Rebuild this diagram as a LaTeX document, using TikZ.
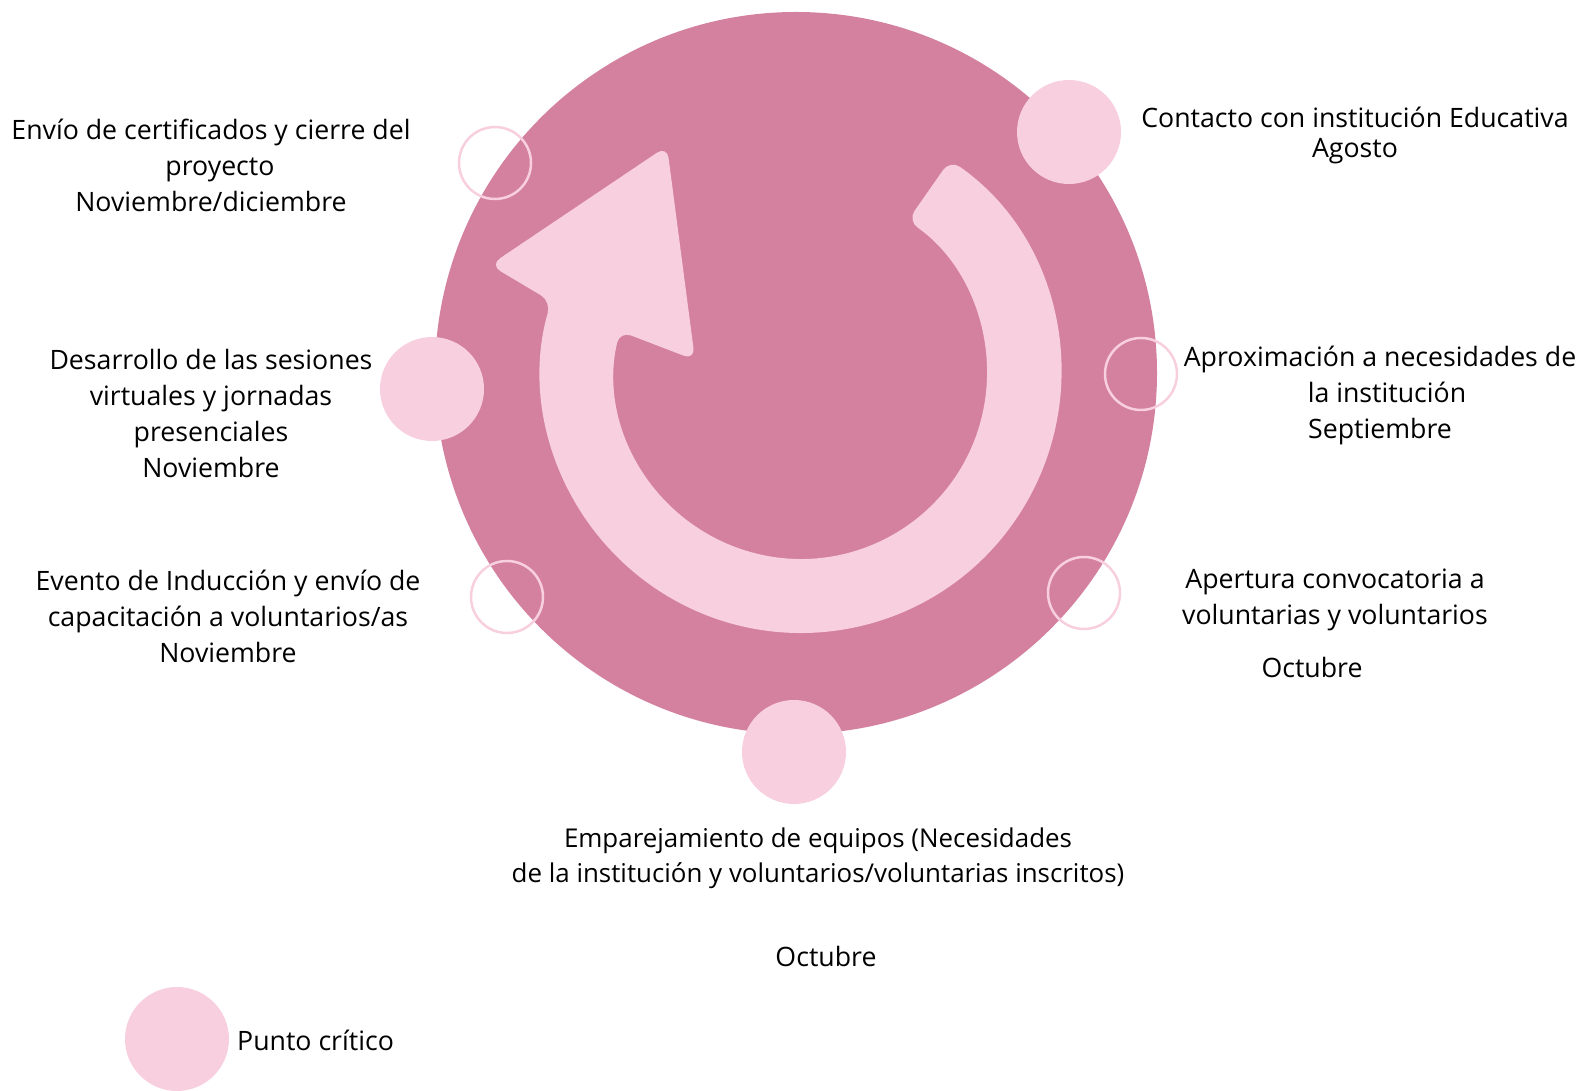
\documentclass[tikz,border=0pt]{standalone}
\usepackage{fontspec}
\setmainfont{Open Sans}
\definecolor{rosa}{HTML}{D4819F}
\definecolor{rosaclaro}{HTML}{F8CFDF}

\begin{document}
\begin{tikzpicture}[x=1pt,y=1pt,
  critico/.style={circle, fill=rosaclaro, draw=none, minimum size=104pt, inner sep=0pt},
  hito/.style={circle, fill=none, draw=rosaclaro, line width=2.5pt, minimum size=72pt, inner sep=0pt},
  etiqueta/.style={align=center, font=\fontsize{26.7}{36}\selectfont, inner sep=0pt}]
\useasboundingbox (0,0) rectangle (1584,1090);
\fill[rosa] (796,717) circle[radius=361];
% flecha circular
\coordinate (o) at (801,717);
\fill[rosaclaro, rounded corners=12] (o) ++(55:223) -- ++(55:37)
  arc[start angle=55, end angle=-196, radius=260]
  -- (490,825) -- (667,944) -- (695,730) -- ([shift={(-193:186)}]o)
  arc[start angle=-193, end angle=55, radius=186] -- cycle;
% puntos
\node[critico] (contacto) at (1069,958) {};
\node[critico] (desarrollo) at (432,701) {};
\node[critico] (emparejamiento) at (794,338) {};
\node[hito] (envio) at (495,927) {};
\node[hito] (aproximacion) at (1141,716) {};
\node[hito] (evento) at (507,493) {};
\node[hito] (apertura) at (1084,497) {};
% textos
\node[etiqueta, font=\fontsize{26.7}{30}\selectfont] (tcontacto) at (1355,955) {Contacto con institución Educativa\\Agosto};
\node[etiqueta] (taproximacion) at (1380,695) {Aproximación a necesidades de\\\hspace*{14pt}la institución\\Septiembre};
\node[etiqueta] (tapertura) at (1335,490) {Apertura convocatoria a\\voluntarias y voluntarios};
\node[etiqueta] (toctubre) at (1312,423) {Octubre};
\node[etiqueta, font=\fontsize{25.9}{35}\selectfont] (temparejamiento) at (818,232) {Emparejamiento de equipos (Necesidades\\de la institución y voluntarios/voluntarias inscritos)};
\node[etiqueta] (toctubreb) at (826,134) {Octubre};
\node[etiqueta] (tevento) at (228,474) {Evento de Inducción y envío de\\capacitación a voluntarios/as\\Noviembre};
\node[etiqueta] (tdesarrollo) at (211,677) {Desarrollo de las sesiones\\virtuales y jornadas\\presenciales\\Noviembre};
\node[etiqueta] (tenvio) at (211,925) {Envío de certificados y cierre del\\\hspace*{18pt}proyecto\\Noviembre/diciembre};
% leyenda
\node[critico] (punto) at (177,51) {};
\node[etiqueta, anchor=west] (tpunto) at (237,50) {Punto crítico};
\end{tikzpicture}
\end{document}
